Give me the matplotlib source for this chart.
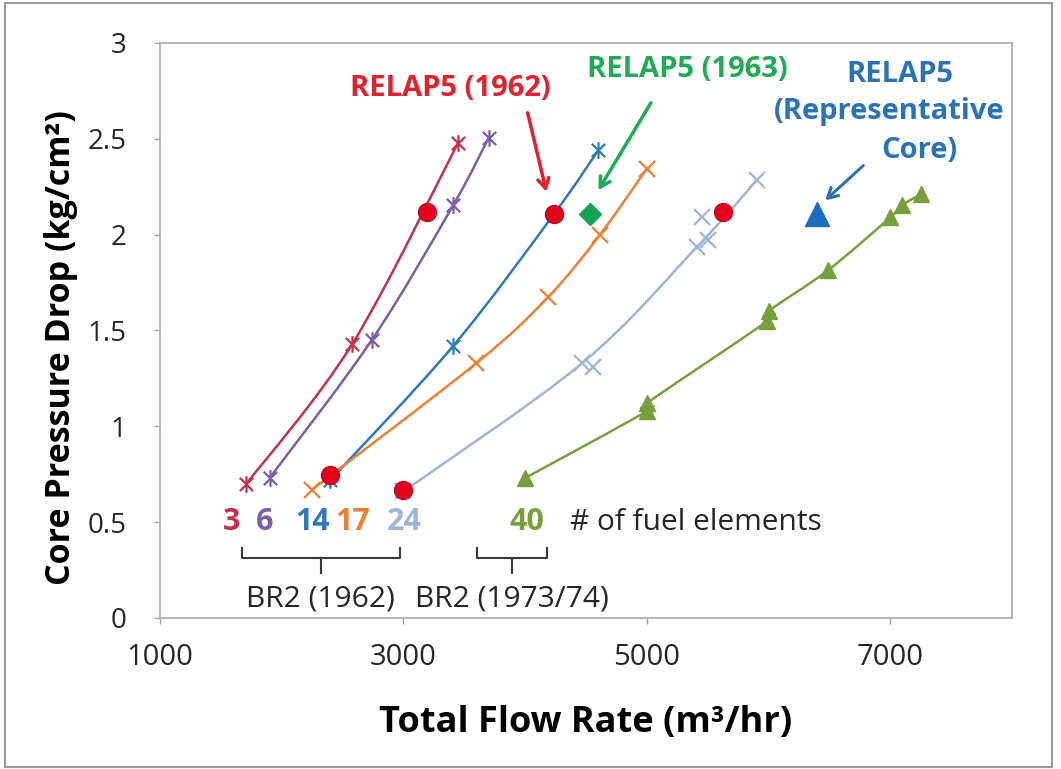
import matplotlib
matplotlib.use("Agg")
import matplotlib.pyplot as plt
from matplotlib.path import Path
from matplotlib.patches import PathPatch, Rectangle

plt.rcParams["font.family"] = ["Open Sans", "DejaVu Sans"]

# measured data (flow rate m3/hr, pressure drop kg/cm2) per number of fuel elements
x_3 = [1710, 2580, 3450]
y_3 = [0.70, 1.43, 2.48]
x_6 = [1900, 2740, 3410, 3700]
y_6 = [0.73, 1.45, 2.155, 2.505]
x_14 = [2400, 3410, 4240, 4600]
y_14 = [0.72, 1.42, 2.11, 2.44]
x_17 = [2250, 3600, 4190, 4615, 5000]
y_17 = [0.67, 1.33, 1.675, 2.00, 2.345]
x_24 = [3000, 4470, 5410, 5905]
y_24 = [0.66, 1.33, 1.935, 2.285]
x_24_extra = [4560, 5500, 5455]
y_24_extra = [1.31, 1.97, 2.09]
x_40 = [4000, 5000, 5000, 5990, 6000, 6490, 7000, 7100, 7250]
y_40 = [0.73, 1.08, 1.12, 1.55, 1.60, 1.815, 2.09, 2.155, 2.21]

# RELAP5 results
relap_1962_x = [2400, 3000, 3195, 4235, 5625]
relap_1962_y = [0.745, 0.668, 2.118, 2.11, 2.118]
relap_1963_x = [4535]
relap_1963_y = [2.11]
relap_rep_x = [6400]
relap_rep_y = [2.11]

element_labels = ["3", "6", "14", "17", "24", "40"]
label_x = [1590, 1863, 2255, 2580, 3010, 4015]

xticks = [1000, 3000, 5000, 7000]
yticks = [0, 0.5, 1, 1.5, 2, 2.5, 3]

c3 = "#C4314B"
c6 = "#7B5EA7"
c14 = "#2E78C0"
c17 = "#EE8034"
c24 = "#9DB5DA"
c40 = "#77A03C"

star = Path([(-1, -1), (1, 1), (-1, 1), (1, -1), (0, -1.25), (0, 1.25)],
            [Path.MOVETO, Path.LINETO, Path.MOVETO, Path.LINETO, Path.MOVETO, Path.LINETO])


def smooth_line(ax, xs, ys, color, lw=1.8):
    # Excel style smoothed line: catmull-rom converted to cubic bezier segments
    pts = list(zip(xs, ys))
    n = len(pts)
    verts = [pts[0]]
    codes = [Path.MOVETO]
    for i in range(n - 1):
        p0 = pts[i - 1] if i > 0 else pts[i]
        p1 = pts[i]
        p2 = pts[i + 1]
        p3 = pts[i + 2] if i + 2 < n else pts[i + 1]
        c1 = (p1[0] + (p2[0] - p0[0]) / 6, p1[1] + (p2[1] - p0[1]) / 6)
        c2 = (p2[0] - (p3[0] - p1[0]) / 6, p2[1] - (p3[1] - p1[1]) / 6)
        verts += [c1, c2, p2]
        codes += [Path.CURVE4] * 3
    ax.add_patch(PathPatch(Path(verts, codes), fill=False, edgecolor=color, lw=lw, zorder=2))


fig = plt.figure(figsize=(10.61, 7.69), dpi=100)
ax = fig.add_axes([0.1508, 0.1964, 0.8030, 0.7477])

series = [
    (x_3, y_3, c3, star),
    (x_6, y_6, c6, star),
    (x_14, y_14, c14, star),
    (x_17, y_17, c17, "x"),
    (x_24, y_24, c24, "x"),
]
for xs, ys, col, mk in series:
    smooth_line(ax, xs, ys, col)
    ax.plot(xs, ys, linestyle="none", marker=mk, markersize=12, markeredgewidth=1.6,
            color=col, zorder=3)
ax.plot(x_24_extra, y_24_extra, linestyle="none", marker="x", markersize=12,
        markeredgewidth=1.6, color=c24, zorder=3)

smooth_line(ax, x_40, y_40, c40)
ax.plot(x_40, y_40, linestyle="none", marker="^", markersize=11, color=c40, zorder=3)

ax.plot(relap_1962_x, relap_1962_y, linestyle="none", marker="o", markersize=13,
        markerfacecolor="#E5001C", markeredgecolor="#B3102E", markeredgewidth=1, zorder=4)
ax.plot(relap_1963_x, relap_1963_y, linestyle="none", marker="D", markersize=11,
        color="#16A34F", zorder=4)
ax.plot(relap_rep_x, relap_rep_y, linestyle="none", marker="^", markersize=17,
        color="#1C6CC0", zorder=4)

# annotations
ann_fs = 21
ax.text(3383, 2.765, "RELAP5 (1962)", color="#E3202C", fontsize=ann_fs, fontweight="bold",
        ha="center", va="center")
ax.annotate("", xy=(4180, 2.21), xytext=(4015, 2.65),
            arrowprops=dict(arrowstyle="->,head_length=0.7,head_width=0.4", color="#E3202C", lw=2.5))
ax.text(5330, 2.86, "RELAP5 (1963)", color="#1FAA55", fontsize=ann_fs, fontweight="bold",
        ha="center", va="center")
ax.annotate("", xy=(4590, 2.22), xytext=(5045, 2.70),
            arrowprops=dict(arrowstyle="->,head_length=0.7,head_width=0.4", color="#1FAA55", lw=2.5))
ax.text(7080, 2.835, "RELAP5", color="#2A72B8", fontsize=ann_fs, fontweight="bold",
        ha="center", va="center")
ax.text(6990, 2.64, "(Representative", color="#2A72B8", fontsize=ann_fs, fontweight="bold",
        ha="center", va="center")
ax.text(7240, 2.44, "Core)", color="#2A72B8", fontsize=ann_fs, fontweight="bold",
        ha="center", va="center")
ax.annotate("", xy=(6450, 2.17), xytext=(6795, 2.37),
            arrowprops=dict(arrowstyle="->,head_length=0.7,head_width=0.4", color="#2A72B8", lw=2.2))

for lab, lx, col in zip(element_labels, label_x, [c3, c6, c14, c17, c24, c40]):
    ax.text(lx, 0.5, lab, color=col, fontsize=22, fontweight="bold", ha="center", va="center")
ax.text(4370, 0.5, "# of fuel elements", color="#262626", fontsize=21.5, ha="left", va="center")

# braces under the element counts
for x0, x1 in [(1675, 2970), (3605, 4180)]:
    xm = (x0 + x1) / 2
    ax.plot([x0, x0, x1, x1], [0.365, 0.313, 0.313, 0.365], color="#3a3a3a", lw=1.5)
    ax.plot([xm, xm], [0.313, 0.235], color="#3a3a3a", lw=1.5)
ax.text(2322, 0.10, "BR2 (1962)", color="#262626", fontsize=21.5, ha="center", va="center")
ax.text(3890, 0.10, "BR2 (1973/74)", color="#262626", fontsize=21.5, ha="center", va="center")

ax.set_xlim(1000, 8000)
ax.set_ylim(0, 3)
ax.set_xticks(xticks)
ax.set_xticklabels([str(t) for t in xticks])
ax.set_yticks(yticks)
ax.set_yticklabels(["0", "0.5", "1", "1.5", "2", "2.5", "3"])
ax.tick_params(axis="both", direction="out", length=4, width=1, color="#a0a0a0",
               labelsize=21, labelcolor="#262626")
ax.tick_params(axis="y", labelsize=20, pad=20)
ax.tick_params(axis="x", pad=14)
for sp in ax.spines.values():
    sp.set_color("#b0b0b0")
    sp.set_linewidth(1.3)

ax.set_xlabel("Total Flow Rate (m³/hr)", fontsize=26, fontweight="bold", color="black")
ax.set_ylabel("Core Pressure Drop (kg/cm²)", fontsize=24.5, fontweight="bold", color="black")
ax.xaxis.set_label_coords(0.5, -0.152)
ax.yaxis.set_label_coords(-0.096, 0.47)

fig.patches.append(Rectangle((5 / 1061, 2 / 769), 1047 / 1061, 764 / 769, transform=fig.transFigure,
                             fill=False, edgecolor="#9a9a9a", lw=1.5))

fig.savefig("out.png", dpi=100)
